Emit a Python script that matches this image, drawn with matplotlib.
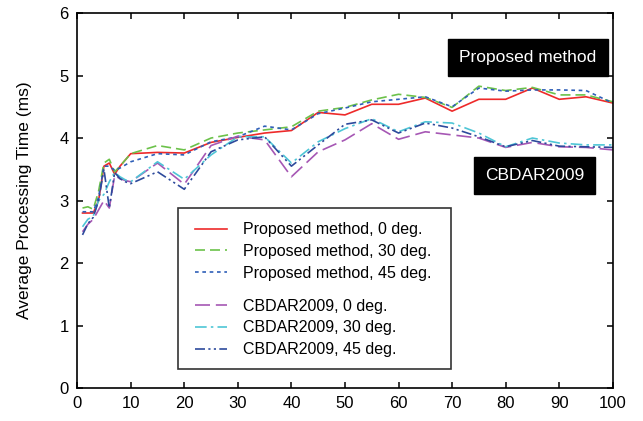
import numpy as np
import matplotlib
matplotlib.use('Agg')
import matplotlib.pyplot as plt
from matplotlib import rcParams
from matplotlib.patches import Rectangle

rcParams['font.family'] = ['Liberation Sans', 'DejaVu Sans']
rcParams['font.size'] = 12
rcParams['axes.linewidth'] = 1.2

# image count / rotation setting vs. average time (ms)
x = [1, 2, 3, 4, 5, 6, 7, 8, 9, 10, 15, 20, 25, 30, 35, 40, 45, 50,
     55, 60, 65, 70, 75, 80, 85, 90, 95, 100]

prop_0 = [2.80, 2.80, 2.80, 3.00, 3.55, 3.60, 3.42, 3.55, 3.65, 3.75,
          3.77, 3.76, 3.93, 4.01, 4.08, 4.12, 4.41, 4.37,
          4.54, 4.54, 4.64, 4.43, 4.62, 4.62, 4.80, 4.62, 4.66, 4.56]
prop_30 = [2.88, 2.90, 2.86, 3.15, 3.60, 3.66, 3.46, 3.55, 3.65, 3.75,
           3.88, 3.81, 4.00, 4.08, 4.13, 4.18, 4.43, 4.49,
           4.61, 4.70, 4.65, 4.49, 4.83, 4.76, 4.81, 4.69, 4.69, 4.58]
prop_45 = [2.82, 2.82, 2.82, 3.05, 3.55, 3.55, 3.48, 3.52, 3.57, 3.62,
           3.75, 3.73, 3.94, 4.02, 4.19, 4.13, 4.39, 4.48,
           4.58, 4.62, 4.66, 4.50, 4.80, 4.75, 4.77, 4.77, 4.76, 4.56]
cb_0 = [2.50, 2.62, 2.70, 2.85, 3.00, 2.88, 3.40, 3.35, 3.32, 3.30,
        3.60, 3.26, 3.88, 4.03, 3.97, 3.38, 3.78, 3.97,
        4.23, 3.98, 4.10, 4.05, 4.00, 3.85, 3.93, 3.86, 3.85, 3.81]
cb_30 = [2.58, 2.70, 2.75, 3.00, 3.10, 3.30, 3.45, 3.38, 3.33, 3.30,
         3.62, 3.34, 3.73, 4.02, 4.02, 3.60, 3.94, 4.15,
         4.31, 4.10, 4.26, 4.24, 4.08, 3.86, 4.00, 3.92, 3.89, 3.89]
cb_45 = [2.45, 2.63, 2.73, 3.00, 3.50, 2.88, 3.45, 3.35, 3.30, 3.27,
         3.46, 3.18, 3.78, 3.97, 4.02, 3.55, 3.89, 4.22,
         4.29, 4.08, 4.24, 4.16, 4.02, 3.86, 3.96, 3.87, 3.86, 3.85]

fig = plt.figure(figsize=(6.43, 4.21), dpi=100)
ax = fig.add_axes([0.12, 0.0784, 0.833, 0.8906])

lw = 1.2
l1, = ax.plot(x, prop_0, color='#ee2a2a', lw=lw, label='Proposed method, 0 deg.')
l2, = ax.plot(x, prop_30, color='#6cc24a', lw=lw, dashes=(6, 3),
              label='Proposed method, 30 deg.')
l3, = ax.plot(x, prop_45, color='#2f5fb8', lw=lw, dashes=(2.2, 2.2),
              label='Proposed method, 45 deg.')
l4, = ax.plot(x, cb_0, color='#a657b4', lw=lw, dashes=(9, 3.5),
              label='CBDAR2009, 0 deg.')
l5, = ax.plot(x, cb_30, color='#4ec6d6', lw=lw, dashes=(7, 2.5, 1.5, 2.5),
              label='CBDAR2009, 30 deg.')
l6, = ax.plot(x, cb_45, color='#2d4a9c', lw=lw,
              dashes=(6, 2, 1.3, 2, 1.3, 2),
              label='CBDAR2009, 45 deg.')

ax.set_xlim(0, 100)
ax.set_ylim(0, 6)
ax.set_xticks(np.arange(0, 101, 10))
ax.set_yticks(np.arange(0, 7, 1))
ax.tick_params(direction='in', top=True, right=True, length=4, width=1.1,
               labelsize=12, pad=6)
ax.set_ylabel('Average Processing Time (ms)', fontsize=12.5, labelpad=20)

# legend frame and two groups of entries
ax.add_patch(Rectangle((0.188, 0.051), 0.510, 0.429, transform=ax.transAxes,
                       facecolor='white', edgecolor='#333333', lw=1.2, zorder=4))
leg_kw = dict(loc='upper left', frameon=False, fontsize=11.5, borderpad=0,
              borderaxespad=0, handlelength=2.0, handletextpad=1.0,
              labelspacing=0.42)
leg1 = ax.legend(handles=[l1, l2, l3], bbox_to_anchor=(0.220, 0.442), **leg_kw)
leg1.set_zorder(5)
ax.add_artist(leg1)
leg2 = ax.legend(handles=[l4, l5, l6], bbox_to_anchor=(0.220, 0.238), **leg_kw)
leg2.set_zorder(5)

box = dict(boxstyle='square,pad=0.65', facecolor='black', edgecolor='black')
ax.text(0.841, 0.881, 'Proposed method', transform=ax.transAxes, color='white',
        fontsize=12.5, ha='center', va='center', bbox=box)
ax.text(0.854, 0.567, 'CBDAR2009', transform=ax.transAxes, color='white',
        fontsize=12.5, ha='center', va='center', bbox=box)

plt.savefig('out.png', dpi=100)
